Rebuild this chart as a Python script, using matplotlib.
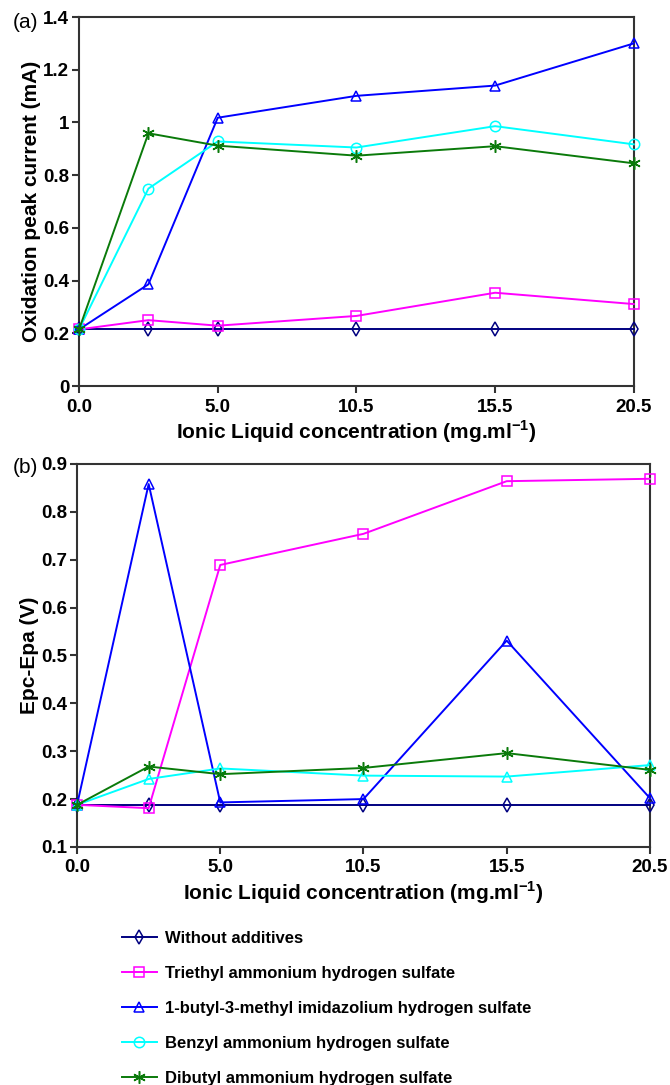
import matplotlib
matplotlib.use('Agg')
import matplotlib.pyplot as plt
from matplotlib.lines import Line2D

plt.rcParams['font.family'] = ['Liberation Sans', 'DejaVu Sans']
plt.rcParams['mathtext.fontset'] = 'custom'
plt.rcParams['mathtext.rm'] = 'Liberation Sans'
plt.rcParams['mathtext.bf'] = 'Liberation Sans:bold'

# concentration axis: points sit on an evenly spaced scale, ticks labelled with real values
x_pos = [0, 2.5, 5, 10, 15, 20]
x_ticks = [0, 5, 10, 15, 20]
x_ticklabels = ['0.0', '5.0', '10.5', '15.5', '20.5']

names = ['Without additives',
         'Triethyl ammonium hydrogen sulfate',
         '1-butyl-3-methyl imidazolium hydrogen sulfate',
         'Benzyl ammonium hydrogen sulfate',
         'Dibutyl ammonium hydrogen sulfate']
colors = ['#000080', '#ff00ff', '#0000ff', '#00ffff', '#0a7a0a']
markers_a = ['d', 's', '^', 'o', (6, 2, 0)]
markers_b = ['d', 's', '^', '^', (6, 2, 0)]
msizes = [7.5, 7.5, 7.5, 7.5, 9]

# (a) oxidation peak current (mA)
ipa_none = [0.215, 0.215, 0.215, 0.215, 0.215, 0.215]
ipa_tea = [0.215, 0.25, 0.229, 0.266, 0.354, 0.311]
ipa_bmim = [0.215, 0.386, 1.018, 1.101, 1.14, 1.30]
ipa_benzyl = [0.215, 0.749, 0.928, 0.905, 0.986, 0.917]
ipa_dba = [0.215, 0.959, 0.912, 0.874, 0.910, 0.845]

# (b) peak separation Epc-Epa (V)
dep_none = [0.188, 0.188, 0.188, 0.188, 0.188, 0.188]
dep_tea = [0.188, 0.181, 0.689, 0.754, 0.864, 0.869]
dep_bmim = [0.188, 0.858, 0.193, 0.200, 0.531, 0.202]
dep_benzyl = [0.188, 0.242, 0.264, 0.249, 0.247, 0.271]
dep_dba = [0.188, 0.268, 0.252, 0.265, 0.296, 0.261]

ya_ticks = [0, 0.2, 0.4, 0.6, 0.8, 1.0, 1.2, 1.4]
ya_labels = ['0', '0.2', '0.4', '0.6', '0.8', '1', '1.2', '1.4']
yb_ticks = [0.1, 0.2, 0.3, 0.4, 0.5, 0.6, 0.7, 0.8, 0.9]
yb_labels = ['0.1', '0.2', '0.3', '0.4', '0.5', '0.6', '0.7', '0.8', '0.9']

fig = plt.figure(figsize=(6.70, 10.85), dpi=100)
ax1 = fig.add_axes([0.118, 0.6442, 0.828, 0.3401])
ax2 = fig.add_axes([0.115, 0.2194, 0.855, 0.353])

xlabel = r'Ionic Liquid concentration (mg.ml$^{\mathbf{-1}}$)'


def draw(ax, series, markers):
    for y, c, m, ms, n in zip(series, colors, markers, msizes, names):
        ax.plot(x_pos, y, color=c, lw=1.4, marker=m, markersize=ms,
                markerfacecolor='none', markeredgecolor=c, markeredgewidth=1.1,
                label=n, clip_on=False, zorder=3)
    ax.set_xlim(0, 20)
    ax.set_xticks(x_ticks)
    ax.set_xticklabels(x_ticklabels)
    ax.set_xlabel(xlabel, fontsize=15, fontweight='bold', labelpad=2)
    for s in ax.spines.values():
        s.set_linewidth(1.5)
        s.set_color('#333333')
    ax.tick_params(direction='out', length=5, width=1.5, color='#333333',
                   labelsize=13.5)
    ax.tick_params(axis='x', pad=4)
    ax.tick_params(axis='y', pad=2)
    for lbl in ax.get_xticklabels() + ax.get_yticklabels():
        lbl.set_fontweight('bold')


draw(ax1, [ipa_none, ipa_tea, ipa_bmim, ipa_benzyl, ipa_dba], markers_a)
ax1.set_ylim(0, 1.4)
ax1.set_yticks(ya_ticks)
ax1.set_yticklabels(ya_labels, fontweight='bold')
ax1.set_ylabel('Oxidation peak current (mA)', fontsize=15, fontweight='bold', labelpad=1.5)

draw(ax2, [dep_none, dep_tea, dep_bmim, dep_benzyl, dep_dba], markers_b)
ax2.set_ylim(0.1, 0.9)
ax2.set_yticks(yb_ticks)
ax2.set_yticklabels(yb_labels, fontweight='bold')
ax2.set_ylabel('Epc-Epa (V)', fontsize=15, fontweight='bold', labelpad=1.5)

fig.text(0.019, 0.9797, '(a)', fontsize=15, va='center', ha='left')
fig.text(0.019, 0.5687, '(b)', fontsize=15, va='center', ha='left')

handles = [Line2D([], [], color=c, lw=1.4, marker=m, markersize=ms,
                  markerfacecolor='none', markeredgecolor=c, markeredgewidth=1.1)
           for c, m, ms in zip(colors, markers_a, msizes)]
leg = fig.legend(handles, names, loc='upper left', bbox_to_anchor=(0.182, 0.1419),
                 frameon=False, fontsize=12, labelspacing=1.2,
                 handlelength=2.1, handletextpad=0.48, borderpad=0,
                 borderaxespad=0)
for t in leg.get_texts():
    t.set_fontweight('bold')

fig.savefig('out.png', dpi=100)
